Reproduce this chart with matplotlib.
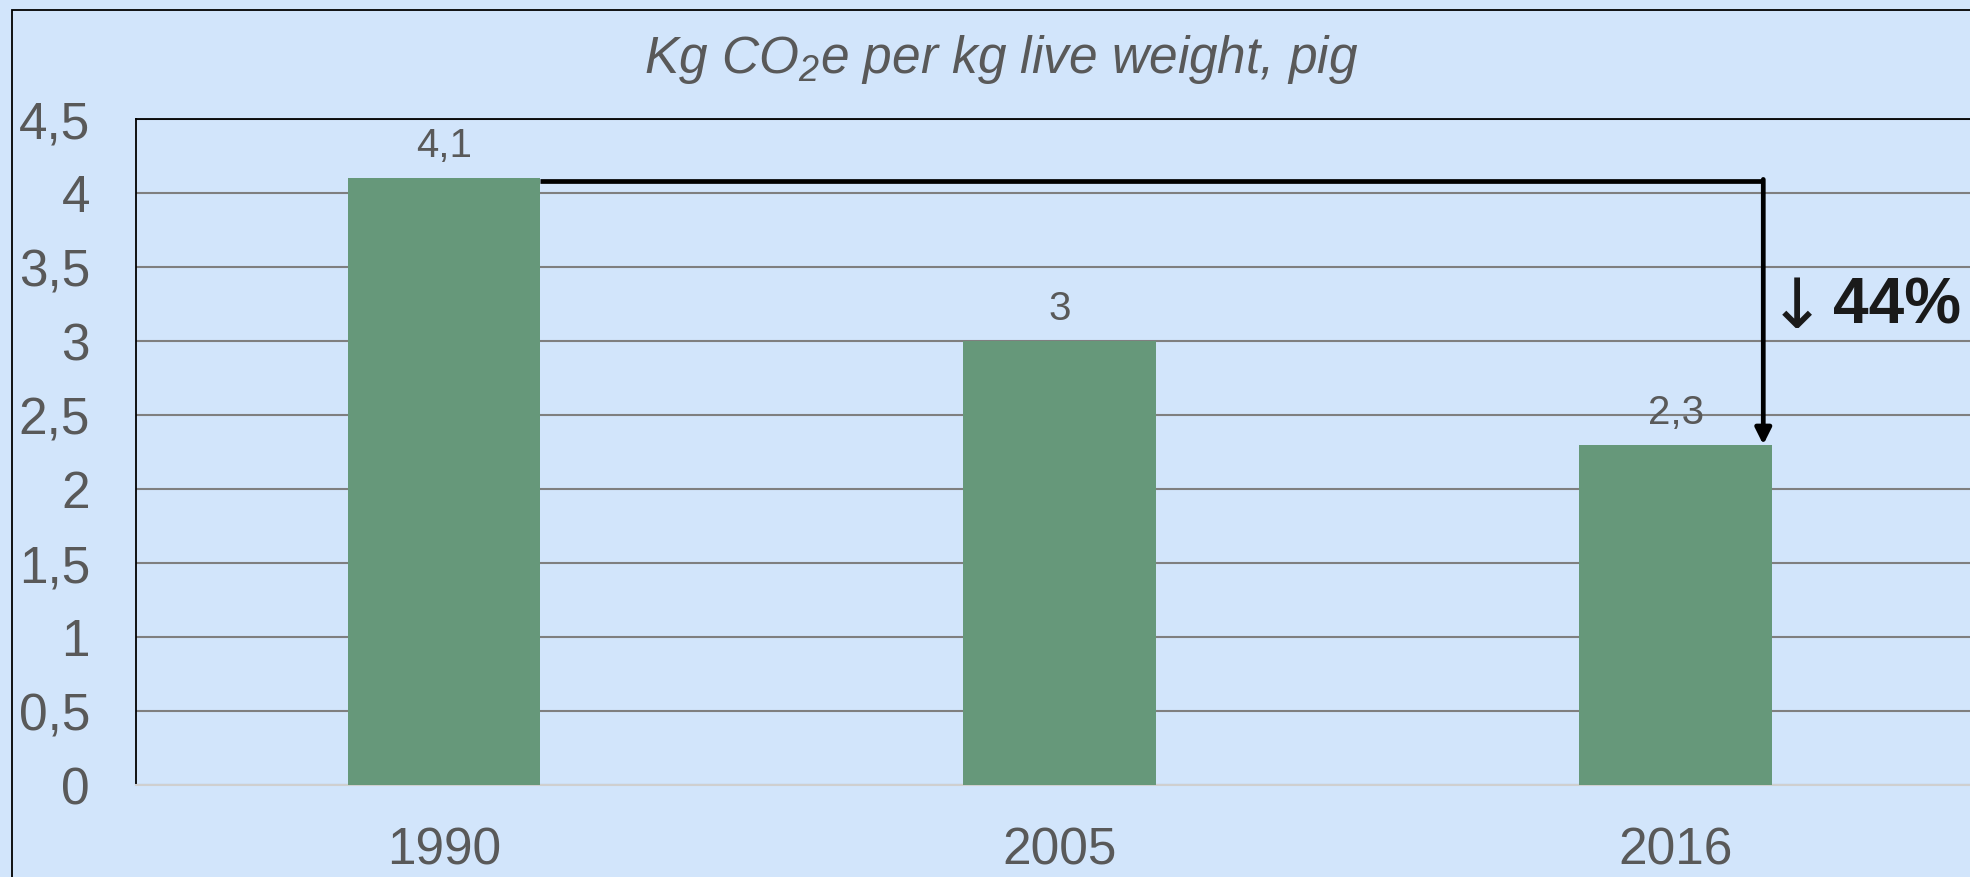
import matplotlib
matplotlib.use("Agg")
import matplotlib.pyplot as plt
from matplotlib.patches import Rectangle

# chart data
years = ["1990", "2005", "2016"]
values = [4.1, 3.0, 2.3]
value_labels = ["4,1", "3", "2,3"]
y_ticks = [0, 0.5, 1, 1.5, 2, 2.5, 3, 3.5, 4, 4.5]
y_tick_labels = ["0", "0,5", "1", "1,5", "2", "2,5", "3", "3,5", "4", "4,5"]
change_arrow = "\u2193"
change_label = "44%"

BG = "#D2E5FB"
BAR = "#66987A"
TXT = "#595959"

plt.rcParams["font.family"] = ["Liberation Sans", "DejaVu Sans"]
plt.rcParams["mathtext.fontset"] = "custom"
plt.rcParams["mathtext.rm"] = "Liberation Sans:italic"
plt.rcParams["mathtext.it"] = "Liberation Sans:italic"


def main():
    fig = plt.figure(figsize=(19.7, 8.77), dpi=100, facecolor=BG)
    ax = fig.add_axes([0.069, 0.1049, 0.938, 0.7594])
    ax.set_facecolor(BG)

    # outer chart border (runs off the right and bottom edges)
    fig.patches.append(Rectangle((12 / 1970, -0.2), 1.2, 1.2 - 10 / 877,
                                 transform=fig.transFigure, fill=False,
                                 edgecolor="black", linewidth=1.3, zorder=0))

    x = list(range(len(years)))
    bw = 0.313
    ax.bar(x, values, width=bw, color=BAR, zorder=3)

    ax.set_xlim(-0.5, 2.5)
    ax.set_ylim(0, 4.5)
    ax.set_yticks(y_ticks)
    ax.set_yticklabels(y_tick_labels)
    ax.set_xticks(x)
    ax.set_xticklabels(years)
    ax.tick_params(axis="y", length=0, pad=33, labelsize=37, labelcolor=TXT)
    ax.tick_params(axis="x", length=0, pad=30, labelsize=37, labelcolor=TXT)

    ax.yaxis.grid(True, color="#7F7F7F", linewidth=1.5, zorder=1)
    ax.set_axisbelow(True)
    for side in ["left", "top", "right"]:
        ax.spines[side].set_color("black")
        ax.spines[side].set_linewidth(1.3)
    ax.spines["bottom"].set_color("#CFCFCF")
    ax.spines["bottom"].set_linewidth(1.5)

    for xi, v, lab in zip(x, values, value_labels):
        ax.annotate(lab, (xi, v), xytext=(0, 23), textcoords="offset points",
                    ha="center", va="center", fontsize=29, color=TXT)

    # bracket arrow from 1990 level down to 2016
    x0 = x[0] + bw / 2
    x1 = x[2] + 0.142
    ytop = values[0] - 0.02
    ax.plot([x0, x1], [ytop, ytop], color="black", linewidth=3.4,
            solid_capstyle="butt", zorder=5)
    ax.annotate("", xy=(x1, values[2]), xytext=(x1, ytop + 0.012),
                arrowprops=dict(arrowstyle="-|>", color="black", lw=3.4,
                                shrinkA=0, shrinkB=0, mutation_scale=24),
                zorder=5)
    ax.text(x[2] + 0.197, 3.22, change_arrow, ha="center", va="center",
            fontsize=50, color="#1A1A1A", family="DejaVu Sans")
    ax.text(x[2] + 0.255, 3.23, change_label, ha="left", va="center",
            fontsize=46, fontweight="bold", color="#1A1A1A")

    fig.text(0.508, 0.932, r"Kg CO$_\mathit{2}$e per kg live weight, pig",
             ha="center", va="center", fontsize=37, style="italic", color=TXT)

    fig.savefig("out.png", dpi=100, facecolor=BG)


if __name__ == "__main__":
    main()
